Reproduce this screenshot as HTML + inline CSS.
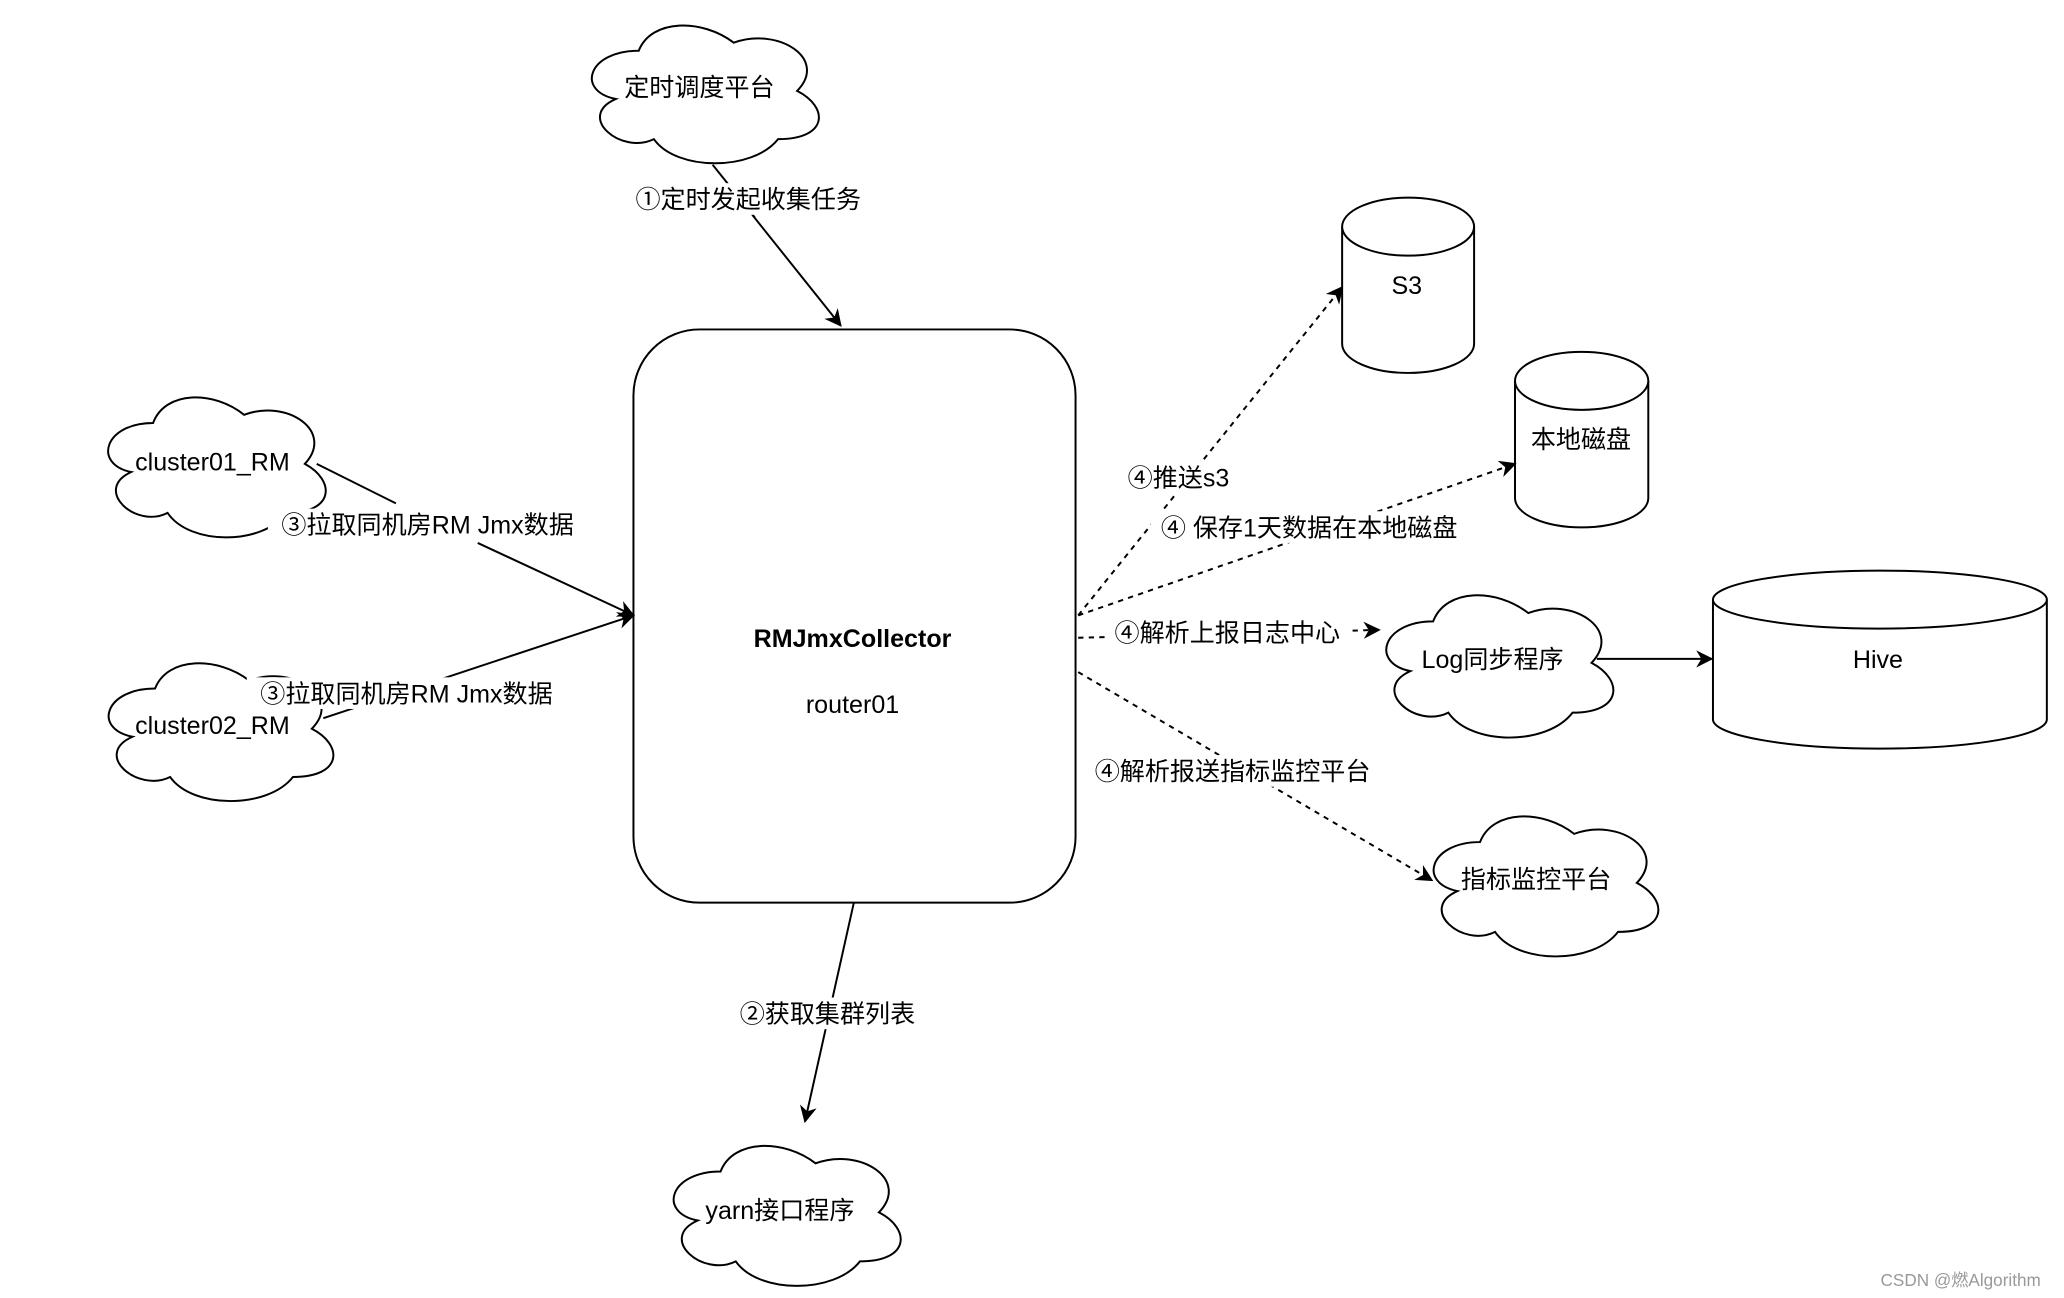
<!DOCTYPE html>
<html><head><meta charset="utf-8"><style>
html,body{margin:0;padding:0;background:#fff;}
svg{display:block;}
text{font-family:"Liberation Sans","Noto Sans CJK SC",sans-serif;font-size:19px;fill:#000;}
</style></head><body>
<svg id="s" width="2064" height="1298" viewBox="0 0 1564 985" preserveAspectRatio="none" xmlns="http://www.w3.org/2000/svg">
<defs>
<marker id="a" viewBox="0 0 10 10" refX="9" refY="5" markerWidth="13" markerHeight="13" orient="auto" markerUnits="userSpaceOnUse">
<path d="M0,0 L10,5 L0,10 L3,5 Z" fill="#000"/></marker>
</defs>
<g id="clouds" fill="#fff" stroke="#000" stroke-width="1.5"></g>
<rect x="480" y="250" width="335" height="435" rx="50" ry="50" fill="#fff" stroke="#000" stroke-width="1.5"/>
<g fill="#fff" stroke="#000" stroke-width="1.5">
<path d="M1017,172 L1017,261 A50,22 0 0 0 1117,261 L1117,172"/><ellipse cx="1067" cy="172" rx="50" ry="22"/>
<path d="M1148,289 L1148,378 A50,22 0 0 0 1249,378 L1249,289"/><ellipse cx="1198.5" cy="289" rx="50.5" ry="22"/>
<path d="M1298,455 L1298,546 A126,22 0 0 0 1551,546 L1551,455"/><ellipse cx="1424.5" cy="455" rx="126.5" ry="22"/>
</g>
<g stroke="#000" stroke-width="1.5" fill="none">
<line x1="540" y1="125" x2="572" y2="165"/>
<line x1="570" y1="163" x2="637" y2="247" marker-end="url(#a)"/>
<line x1="240" y1="352" x2="300" y2="382"/>
<line x1="362" y1="412" x2="480" y2="467" marker-end="url(#a)"/>
<line x1="245" y1="545" x2="480" y2="467" marker-end="url(#a)"/>
<line x1="647" y1="685" x2="610" y2="851" marker-end="url(#a)"/>
<line x1="1210" y1="500" x2="1297" y2="500" marker-end="url(#a)"/>
<g stroke-dasharray="4,4">
<line x1="817" y1="467" x2="1017" y2="218" marker-end="url(#a)"/>
<line x1="817" y1="467" x2="1148" y2="352" marker-end="url(#a)"/>
<line x1="817" y1="484" x2="1045" y2="478" marker-end="url(#a)"/>
<line x1="817" y1="510" x2="1085" y2="668" marker-end="url(#a)"/>
</g>
</g>
<g fill="#fff">
<rect x="475" y="139" width="185" height="24"/>
<rect x="203" y="386" width="243" height="24"/>
<rect x="187" y="514" width="243" height="24"/>
<rect x="555" y="757" width="144" height="24"/>
<rect x="850" y="350" width="86" height="24"/>
<rect x="872" y="388" width="242" height="24"/>
<rect x="838" y="468" width="184" height="24"/>
<rect x="822" y="573" width="225" height="24"/>
</g>
<g text-anchor="middle">
<text x="530" y="73">定时调度平台</text>
<text x="567" y="158">①定时发起收集任务</text>
<text x="161" y="357">cluster01_RM</text>
<text x="324" y="405">③拉取同机房RM  Jmx数据</text>
<text x="161" y="557">cluster02_RM</text>
<text x="308" y="533">③拉取同机房RM  Jmx数据</text>
<text x="646" y="491" font-weight="bold">RMJmxCollector</text>
<text x="646" y="541">router01</text>
<text x="627" y="776">②获取集群列表</text>
<text x="591" y="925">yarn接口程序</text>
<text x="1066" y="223">S3</text>
<text x="1198" y="340">本地磁盘</text>
<text x="1423" y="507">Hive</text>
<text x="1131" y="507">Log同步程序</text>
<text x="1164" y="674">指标监控平台</text>
<text x="893" y="369">④推送s3</text>
<text x="992" y="407">④ 保存1天数据在本地磁盘</text>
<text x="930" y="487">④解析上报日志中心</text>
<text x="934" y="592">④解析报送指标监控平台</text>
</g>
<text x="1425" y="976" style="font-size:13px;fill:#999">CSDN @燃Algorithm</text>
</svg>
<script>
function cloud(x,y,w,h){
 var p=function(a,b){return (x+a*w).toFixed(1)+","+(y+b*h).toFixed(1);};
 return "M"+p(.25,.25)+" C"+p(.05,.25)+" "+p(0,.5)+" "+p(.16,.55)+" C"+p(0,.66)+" "+p(.18,.9)+" "+p(.31,.8)+" C"+p(.4,1)+" "+p(.7,1)+" "+p(.8,.8)+" C"+p(1,.8)+" "+p(1,.6)+" "+p(.875,.5)+" C"+p(1,.3)+" "+p(.8,.1)+" "+p(.625,.2)+" C"+p(.5,.05)+" "+p(.3,.05)+" "+p(.25,.25)+" Z";
}
var cs=[[436,8,192,122],[70,290,184,124],[70,492,190,122],[498,858,192,124],[1038,440,192,126],[1074,608,190,124]];
var g=document.getElementById("clouds");
cs.forEach(function(c){var e=document.createElementNS("http://www.w3.org/2000/svg","path");e.setAttribute("d",cloud(c[0],c[1],c[2],c[3]));g.appendChild(e);});
</script>
</body></html>
